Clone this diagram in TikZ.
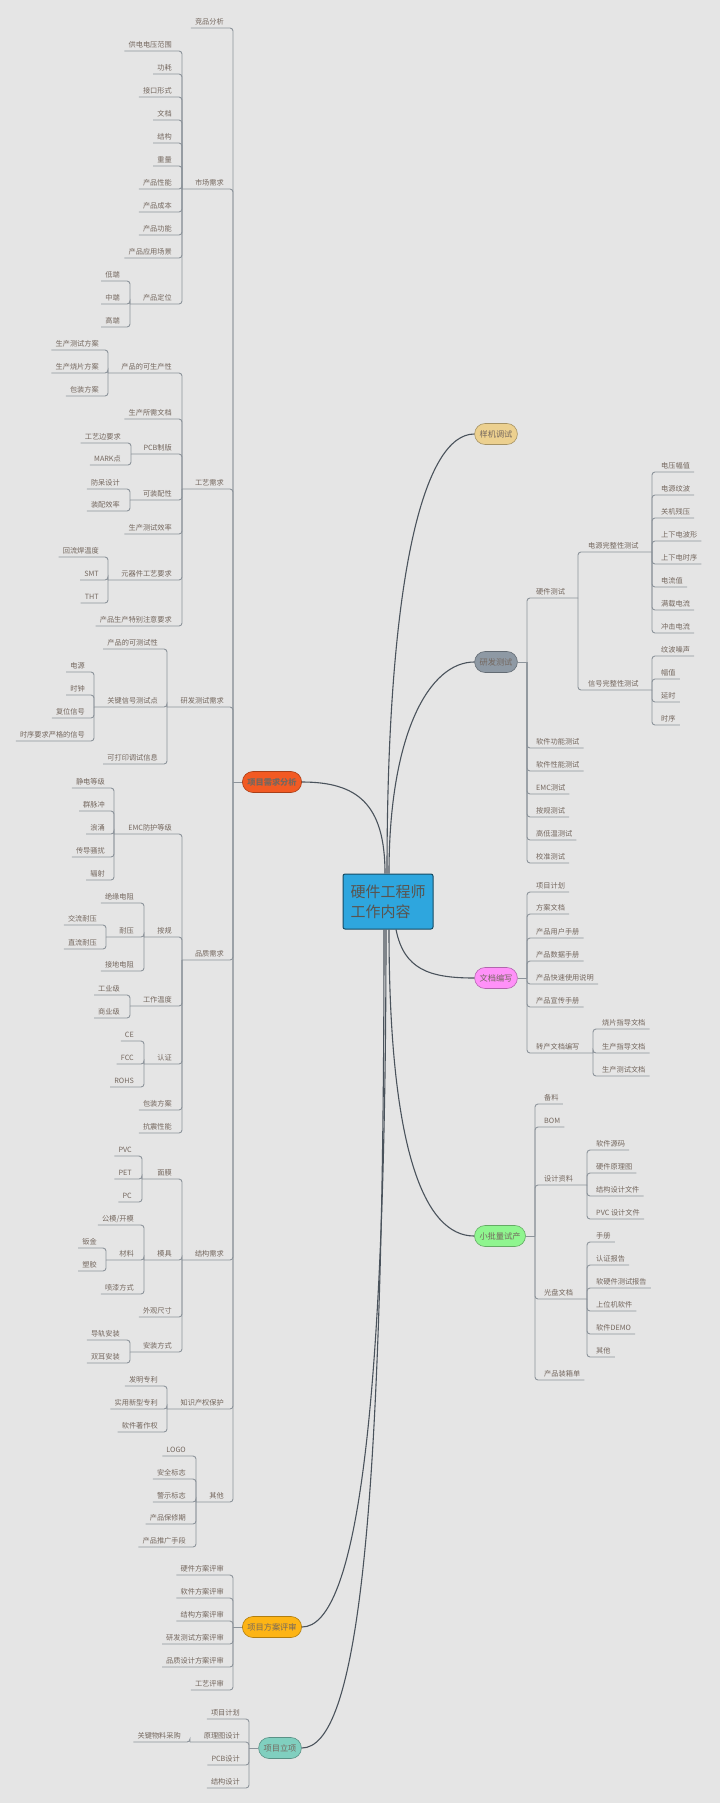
\documentclass[tikz,border=0pt]{standalone}
\usepackage{fontspec}
\newfontfamily\cjk{Noto Sans CJK SC}
\definecolor{bgc}{HTML}{E5E5E5}
\definecolor{ttxt}{HTML}{74675E}
\definecolor{linec}{HTML}{8D949B}
\definecolor{curvec}{HTML}{4A535C}
\definecolor{ctxt}{HTML}{59544F}
\definecolor{cct}{HTML}{2EA6DE}
\definecolor{cxq}{HTML}{F25A23}
\definecolor{cyj}{HTML}{ECD08F}
\definecolor{cyc}{HTML}{8E99A4}
\definecolor{cwd}{HTML}{FF91F8}
\definecolor{cxp}{HTML}{8FF58F}
\definecolor{cpa}{HTML}{FDB415}
\definecolor{clx}{HTML}{80CFBF}
\tikzset{
    lnode/.style={anchor=south east, inner xsep=0pt, inner ysep=2.2pt,
        text height=6.2pt, text depth=1.1pt,
        font=\cjk\fontsize{7.2}{8}\selectfont, text=ttxt},
    rnode/.style={lnode, anchor=south west},
    branch/.style={draw=linec, line width=0.9pt, rounded corners=3pt},
    trunk/.style={draw=curvec, line width=1.1pt},
    topic/.style={draw=#1!70!black, fill=#1, line width=0.6pt,
        rounded corners=10.5pt, minimum height=21pt, inner xsep=5pt, inner ysep=0pt,
        font=\cjk\fontsize{8.2}{9}\selectfont, text=ttxt},
    centre/.style={draw=cct!45!black, fill=cct, line width=1pt, rounded corners=2pt,
        minimum width=90pt, minimum height=55pt, inner xsep=7pt, align=left,
        font=\cjk\fontsize{15}{20}\selectfont, text=ctxt}
}
\begin{document}
\begin{tikzpicture}[x=1pt, y=-1pt]
    \useasboundingbox (0,0) rectangle (720,1815);
    \fill[bgc] (0,0) rectangle (720,1803);

    % 中心主题与主题
    \node[centre] (ct) at (388,901.5) {硬件工程师\\工作内容};
    \node[topic=cxq, font=\cjk\fontsize{8.2}{9}\selectfont\bfseries] (xq) at (272,782) {项目需求分析};
    \node[topic=cyj] (yj) at (496,434) {样机调试};
    \node[topic=cyc] (yc) at (496,662) {研发测试};
    \node[topic=cwd] (wd) at (496,978) {文档编写};
    \node[topic=cxp] (xp) at (500,1236) {小批量试产};
    \node[topic=cpa] (pa) at (272,1627) {项目方案评审};
    \node[topic=clx] (lx) at (280,1748) {项目立项};

    \draw[trunk] ([xshift=-3pt]ct.north) .. controls +(0,-70) and +(55,0) .. (xq.east);
    \draw[trunk] ([xshift=-1pt]ct.north) .. controls +(0,-300) and +(-50,0) .. (yj.west);
    \draw[trunk] ([xshift=1pt]ct.north) .. controls +(0,-140) and +(-45,0) .. (yc.west);
    \draw[trunk] ([xshift=8pt]ct.south) .. controls +(8,40) and +(-45,0) .. (wd.west);
    \draw[trunk] ([xshift=1pt]ct.south) .. controls +(0,220) and +(-50,0) .. (xp.west);
    \draw[trunk] ([xshift=-2pt]ct.south) .. controls +(0,480) and +(55,0) .. (pa.east);
    \draw[trunk] ([xshift=-4pt]ct.south) .. controls +(0,600) and +(55,0) .. (lx.east);

    % 项目需求分析
    \coordinate (xq-b) at (233,782);
    \draw[branch] (xq.west) -- (xq-b);
    \node[lnode] (jp) at (224,28) {竞品分析};
    \draw[branch] ([xshift=-4pt]jp.south west) -| (xq-b);
    \foreach \n/\lab/\yy/\b in {sc/市场需求/189/182, gy/工艺需求/489/182, yf/研发测试需求/707/167,
        pz/品质需求/960/182, jg/结构需求/1260/182, zs/知识产权保护/1409/167, qt/其他/1502/196}{
        \node[lnode] (\n) at (224,\yy) {\lab};
        \coordinate (\n-b) at (\b,\yy);
        \draw[branch] (\n-b) -| (xq-b);
    }

    % 市场需求
    \foreach \lab/\yy [count=\i] in {供电电压范围/51, 功耗/74, 接口形式/97, 文档/120, 结构/143,
        重量/166, 产品性能/189, 产品成本/212, 产品功能/235, 产品应用场景/258}{
        \node[lnode] (sc\i) at (172,\yy) {\lab};
        \draw[branch] ([xshift=-4pt]sc\i.south west) -| (sc-b);
    }
    \node[lnode] (dw) at (172,304) {产品定位};
    \coordinate (dw-b) at (130,304);
    \draw[branch] (dw-b) -| (sc-b);
    \foreach \lab/\yy [count=\i] in {低端/281, 中端/304, 高端/327}{
        \node[lnode] (dw\i) at (120,\yy) {\lab};
        \draw[branch] ([xshift=-4pt]dw\i.south west) -| (dw-b);
    }

    % 工艺需求
    \foreach \n/\lab/\yy/\b in {ks/产品的可生产性/373/108, pcb/PCB制版/454/131,
        kz/可装配性/500/130, yq/元器件工艺要求/580/108}{
        \node[lnode] (\n) at (172,\yy) {\lab};
        \coordinate (\n-b) at (\b,\yy);
        \draw[branch] (\n-b) -| (gy-b);
    }
    \foreach \lab/\yy [count=\i] in {生产所需文档/419, 生产测试效率/534, 产品生产特别注意要求/626}{
        \node[lnode] (gy\i) at (172,\yy) {\lab};
        \draw[branch] ([xshift=-4pt]gy\i.south west) -| (gy-b);
    }
    \foreach \lab/\yy [count=\i] in {生产测试方案/350, 生产烧片方案/373, 包装方案/396}{
        \node[lnode] (ks\i) at (99,\yy) {\lab};
        \draw[branch] ([xshift=-4pt]ks\i.south west) -| (ks-b);
    }
    \foreach \lab/\yy [count=\i] in {工艺边要求/443, MARK点/465}{
        \node[lnode] (pcb\i) at (121,\yy) {\lab};
        \draw[branch] ([xshift=-4pt]pcb\i.south west) -| (pcb-b);
    }
    \foreach \lab/\yy [count=\i] in {防呆设计/489, 装配效率/511}{
        \node[lnode] (kz\i) at (120,\yy) {\lab};
        \draw[branch] ([xshift=-4pt]kz\i.south west) -| (kz-b);
    }
    \foreach \lab/\yy [count=\i] in {回流焊温度/557, SMT/580, THT/603}{
        \node[lnode] (yq\i) at (99,\yy) {\lab};
        \draw[branch] ([xshift=-4pt]yq\i.south west) -| (yq-b);
    }

    % 研发测试需求
    \foreach \lab/\yy [count=\i] in {产品的可测试性/649, 可打印调试信息/764}{
        \node[lnode] (yf\i) at (158,\yy) {\lab};
        \draw[branch] ([xshift=-4pt]yf\i.south west) -| (yf-b);
    }
    \node[lnode] (gj) at (158,707) {关键信号测试点};
    \coordinate (gj-b) at (94,707);
    \draw[branch] (gj-b) -| (yf-b);
    \foreach \lab/\yy [count=\i] in {电源/672, 时钟/695, 复位信号/718, 时序要求严格的信号/741}{
        \node[lnode] (gj\i) at (85,\yy) {\lab};
        \draw[branch] ([xshift=-4pt]gj\i.south west) -| (gj-b);
    }

    % 品质需求
    \foreach \n/\lab/\yy/\b in {emc/EMC防护等级/834/114, ag/按规/937/144,
        gw/工作温度/1006/130, rz/认证/1064/144}{
        \node[lnode] (\n) at (172,\yy) {\lab};
        \coordinate (\n-b) at (\b,\yy);
        \draw[branch] (\n-b) -| (pz-b);
    }
    \foreach \lab/\yy [count=\i] in {包装方案/1110, 抗震性能/1133}{
        \node[lnode] (pz\i) at (172,\yy) {\lab};
        \draw[branch] ([xshift=-4pt]pz\i.south west) -| (pz-b);
    }
    \foreach \lab/\yy [count=\i] in {静电等级/788, 群脉冲/811, 浪涌/834, 传导骚扰/857, 辐射/880}{
        \node[lnode] (emc\i) at (105,\yy) {\lab};
        \draw[branch] ([xshift=-4pt]emc\i.south west) -| (emc-b);
    }
    \foreach \lab/\yy [count=\i] in {绝缘电阻/903, 接地电阻/971}{
        \node[lnode] (ag\i) at (134,\yy) {\lab};
        \draw[branch] ([xshift=-4pt]ag\i.south west) -| (ag-b);
    }
    \node[lnode] (ny) at (134,937) {耐压};
    \coordinate (ny-b) at (106,937);
    \draw[branch] (ny-b) -| (ag-b);
    \foreach \lab/\yy [count=\i] in {交流耐压/925, 直流耐压/949}{
        \node[lnode] (ny\i) at (97,\yy) {\lab};
        \draw[branch] ([xshift=-4pt]ny\i.south west) -| (ny-b);
    }
    \foreach \lab/\yy [count=\i] in {工业级/995, 商业级/1018}{
        \node[lnode] (gw\i) at (120,\yy) {\lab};
        \draw[branch] ([xshift=-4pt]gw\i.south west) -| (gw-b);
    }
    \foreach \lab/\yy [count=\i] in {CE/1041, FCC/1064, ROHS/1087}{
        \node[lnode] (rz\i) at (134,\yy) {\lab};
        \draw[branch] ([xshift=-4pt]rz\i.south west) -| (rz-b);
    }

    % 结构需求
    \foreach \n/\lab/\yy/\b in {mm/面膜/1179/142, mj/模具/1260/144, az/安装方式/1352/130}{
        \node[lnode] (\n) at (172,\yy) {\lab};
        \coordinate (\n-b) at (\b,\yy);
        \draw[branch] (\n-b) -| (jg-b);
    }
    \node[lnode] (jg1) at (172,1317) {外观尺寸};
    \draw[branch] ([xshift=-4pt]jg1.south west) -| (jg-b);
    \foreach \lab/\yy [count=\i] in {PVC/1156, PET/1179, PC/1202}{
        \node[lnode] (mm\i) at (132,\yy) {\lab};
        \draw[branch] ([xshift=-4pt]mm\i.south west) -| (mm-b);
    }
    \node[lnode] (mj1) at (134,1225) {公模/开模};
    \node[lnode] (mj2) at (134,1294) {喷漆方式};
    \draw[branch] ([xshift=-4pt]mj1.south west) -| (mj-b);
    \draw[branch] ([xshift=-4pt]mj2.south west) -| (mj-b);
    \node[lnode] (cl) at (134,1260) {材料};
    \coordinate (cl-b) at (106,1260);
    \draw[branch] (cl-b) -| (mj-b);
    \foreach \lab/\yy [count=\i] in {钣金/1248, 塑胶/1271}{
        \node[lnode] (cl\i) at (97,\yy) {\lab};
        \draw[branch] ([xshift=-4pt]cl\i.south west) -| (cl-b);
    }
    \foreach \lab/\yy [count=\i] in {导轨安装/1340, 双耳安装/1363}{
        \node[lnode] (az\i) at (120,\yy) {\lab};
        \draw[branch] ([xshift=-4pt]az\i.south west) -| (az-b);
    }

    % 知识产权保护、其他
    \foreach \lab/\yy [count=\i] in {发明专利/1386, 实用新型专利/1409, 软件著作权/1432}{
        \node[lnode] (zs\i) at (158,\yy) {\lab};
        \draw[branch] ([xshift=-4pt]zs\i.south west) -| (zs-b);
    }
    \foreach \lab/\yy [count=\i] in {LOGO/1456, 安全标志/1479, 警示标志/1502, 产品保修期/1524, 产品推广手段/1547}{
        \node[lnode] (qt\i) at (186,\yy) {\lab};
        \draw[branch] ([xshift=-4pt]qt\i.south west) -| (qt-b);
    }

    % 项目方案评审
    \coordinate (pa-b) at (233,1627);
    \draw[branch] (pa.west) -- (pa-b);
    \foreach \lab/\yy [count=\i] in {硬件方案评审/1575, 软件方案评审/1598, 结构方案评审/1621,
        研发测试方案评审/1644, 品质设计方案评审/1667, 工艺评审/1690}{
        \node[lnode] (pa\i) at (224,\yy) {\lab};
        \draw[branch] ([xshift=-4pt]pa\i.south west) -| (pa-b);
    }

    % 项目立项
    \coordinate (lx-b) at (249,1748);
    \draw[branch] (lx.west) -- (lx-b);
    \foreach \lab/\yy [count=\i] in {项目计划/1719, PCB设计/1765, 结构设计/1788}{
        \node[lnode] (lx\i) at (240,\yy) {\lab};
        \draw[branch] ([xshift=-4pt]lx\i.south west) -| (lx-b);
    }
    \node[lnode] (yl) at (240,1742) {原理图设计};
    \coordinate (yl-b) at (190,1742);
    \draw[branch] (yl-b) -| (lx-b);
    \node[lnode] (yl1) at (181,1742) {关键物料采购};
    \draw[branch] ([xshift=-4pt]yl1.south west) -| (yl-b);

    % 研发测试
    \coordinate (yc-b) at (527,662);
    \draw[branch] (yc.east) -- (yc-b);
    \node[rnode] (hw) at (536,598) {硬件测试};
    \coordinate (hw-b) at (578,598);
    \draw[branch] (hw-b) -| (yc-b);
    \foreach \lab/\yy [count=\i] in {软件功能测试/748, 软件性能测试/771, EMC测试/794,
        按规测试/817, 高低温测试/840, 校准测试/863}{
        \node[rnode] (yc\i) at (536,\yy) {\lab};
        \draw[branch] ([xshift=4pt]yc\i.south east) -| (yc-b);
    }
    \foreach \n/\lab/\yy in {dy/电源完整性测试/552, xh/信号完整性测试/690}{
        \node[rnode] (\n) at (588,\yy) {\lab};
        \coordinate (\n-b) at (652,\yy);
        \draw[branch] (\n-b) -| (hw-b);
    }
    \foreach \lab/\yy [count=\i] in {电压幅值/472, 电源纹波/495, 关机残压/518, 上下电波形/541,
        上下电时序/564, 电流值/587, 满载电流/610, 冲击电流/633}{
        \node[rnode] (dy\i) at (661,\yy) {\lab};
        \draw[branch] ([xshift=4pt]dy\i.south east) -| (dy-b);
    }
    \foreach \lab/\yy [count=\i] in {纹波噪声/656, 幅值/679, 延时/702, 时序/725}{
        \node[rnode] (xh\i) at (661,\yy) {\lab};
        \draw[branch] ([xshift=4pt]xh\i.south east) -| (xh-b);
    }

    % 文档编写
    \coordinate (wd-b) at (527,978);
    \draw[branch] (wd.east) -- (wd-b);
    \foreach \lab/\yy [count=\i] in {项目计划/892, 方案文档/914, 产品用户手册/938, 产品数据手册/961,
        产品快速使用说明/984, 产品宣传手册/1007}{
        \node[rnode] (wd\i) at (536,\yy) {\lab};
        \draw[branch] ([xshift=4pt]wd\i.south east) -| (wd-b);
    }
    \node[rnode] (zc) at (536,1053) {转产文档编写};
    \coordinate (zc-b) at (593,1053);
    \draw[branch] (zc-b) -| (wd-b);
    \foreach \lab/\yy [count=\i] in {烧片指导文档/1029, 生产指导文档/1053, 生产测试文档/1076}{
        \node[rnode] (zc\i) at (602,\yy) {\lab};
        \draw[branch] ([xshift=4pt]zc\i.south east) -| (zc-b);
    }

    % 小批量试产
    \coordinate (xp-b) at (535,1236);
    \draw[branch] (xp.east) -- (xp-b);
    \foreach \lab/\yy [count=\i] in {备料/1104, BOM/1127, 产品装箱单/1380}{
        \node[rnode] (xp\i) at (544,\yy) {\lab};
        \draw[branch] ([xshift=4pt]xp\i.south east) -| (xp-b);
    }
    \foreach \n/\lab/\yy in {sj/设计资料/1185, gp/光盘文档/1299}{
        \node[rnode] (\n) at (544,\yy) {\lab};
        \coordinate (\n-b) at (587,\yy);
        \draw[branch] (\n-b) -| (xp-b);
    }
    \foreach \lab/\yy [count=\i] in {软件源码/1150, 硬件原理图/1173, 结构设计文件/1196, PVC 设计文件/1219}{
        \node[rnode] (sj\i) at (596,\yy) {\lab};
        \draw[branch] ([xshift=4pt]sj\i.south east) -| (sj-b);
    }
    \foreach \lab/\yy [count=\i] in {手册/1242, 认证报告/1265, 软硬件测试报告/1288, 上位机软件/1311,
        软件DEMO/1334, 其他/1357}{
        \node[rnode] (gp\i) at (596,\yy) {\lab};
        \draw[branch] ([xshift=4pt]gp\i.south east) -| (gp-b);
    }
\end{tikzpicture}
\end{document}
